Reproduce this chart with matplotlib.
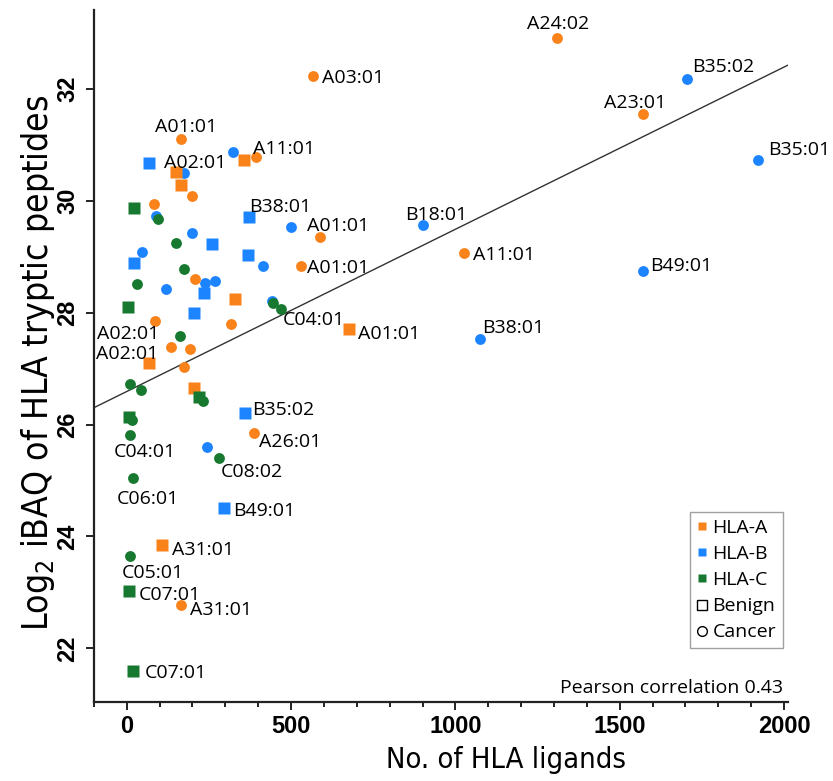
import matplotlib
matplotlib.use("Agg")
import matplotlib.pyplot as plt
import matplotlib.font_manager as fm
from matplotlib.lines import Line2D
from matplotlib.ticker import MultipleLocator
import numpy as np

# ---------------- data ----------------
# HLA-A (orange)
a_cancer_x = [164, 392, 200, 84, 589, 529, 209, 86, 318, 134, 193, 174, 387, 164, 1308, 1570, 1025, 567]
a_cancer_y = [31.11, 30.79, 30.09, 29.94, 29.36, 28.84, 28.60, 27.85, 27.79, 27.38, 27.35, 27.03, 25.84, 22.77, 32.91, 31.55, 29.07, 32.23]
a_cancer_lab = ['A01:01', 'A11:01', '', '', 'A01:01', 'A01:01', '', 'A02:01', '', '', '', '', 'A26:01', 'A31:01', 'A24:02', 'A23:01', 'A11:01', 'A03:01']
a_benign_x = [358, 150, 165, 329, 67, 206, 676, 107]
a_benign_y = [30.72, 30.52, 30.28, 28.25, 27.10, 26.65, 27.71, 23.84]
a_benign_lab = ['', 'A02:01', '', '', 'A02:01', '', 'A01:01', 'A31:01']

# HLA-B (blue)
b_cancer_x = [322, 175, 88, 500, 199, 46, 415, 120, 238, 269, 441, 243, 1704, 1922, 901, 1570, 1075]
b_cancer_y = [30.88, 30.50, 29.73, 29.53, 29.42, 29.08, 28.84, 28.42, 28.53, 28.57, 28.21, 25.60, 32.18, 30.73, 29.56, 28.75, 27.52]
b_cancer_lab = ['', '', '', '', '', '', '', '', '', '', '', '', 'B35:02', 'B35:01', 'B18:01', 'B49:01', 'B38:01']
b_benign_x = [67, 373, 260, 23, 369, 235, 206, 359, 296]
b_benign_y = [30.67, 29.71, 29.23, 28.88, 29.03, 28.35, 27.99, 26.20, 24.51]
b_benign_lab = ['', 'B38:01', '', '', '', '', '', 'B35:02', 'B49:01']

# HLA-C (green)
c_cancer_x = [95, 150, 175, 31, 446, 469, 163, 10, 44, 233, 17, 10, 282, 20, 10]
c_cancer_y = [29.68, 29.24, 28.78, 28.51, 28.17, 28.06, 27.59, 26.72, 26.61, 26.42, 26.08, 25.81, 25.40, 25.05, 23.65]
c_cancer_lab = ['', '', '', '', '', 'C04:01', '', '', '', '', '', 'C04:01', 'C08:02', 'C06:01', 'C05:01']
c_benign_x = [23, 3, 219, 8, 8, 18]
c_benign_y = [29.87, 28.10, 26.50, 26.14, 23.02, 21.59]
c_benign_lab = ['', '', '', '', 'C07:01', 'C07:01']

# regression line
fit_intercept = 26.59
fit_slope = 0.00290
pearson_r = 0.43

x_ticks = [0, 500, 1000, 1500, 2000]
y_ticks = [22, 24, 26, 28, 30, 32]

# ---------------- label placement (pixel offsets, ha) ----------------
label_pos = {
    ('Ac', 0): (5, 14, 'center'), ('Ac', 1): (-2.7, 10, 'left'), ('Ac', 4): (-13.6, 12.4, 'left'),
    ('Ac', 5): (6, 0, 'left'), ('Ac', 7): (4, -10.7, 'right'), ('Ac', 12): (5.3, -6.7, 'left'),
    ('Ac', 13): (9.3, -2.4, 'left'), ('Ac', 14): (2, 15.7, 'center'), ('Ac', 15): (-7.4, 13.3, 'center'),
    ('Ac', 16): (9, 0, 'left'), ('Ac', 17): (9, 0, 'left'),
    ('Ab', 1): (19.5, 11, 'center'), ('Ab', 4): (10, 11, 'right'), ('Ab', 6): (8.7, -2.7, 'left'),
    ('Ab', 7): (9.7, -2.4, 'left'),
    ('Bc', 12): (5, 13.7, 'left'), ('Bc', 13): (10, 11.7, 'left'), ('Bc', 14): (-17.7, 12.3, 'left'),
    ('Bc', 15): (7.3, 6.4, 'left'), ('Bc', 16): (2.3, 13.3, 'left'),
    ('Bb', 1): (0, 12, 'left'), ('Bb', 7): (7.6, 5, 'left'), ('Bb', 8): (8.7, -1, 'left'),
    ('Cc', 5): (2.3, -9, 'left'), ('Cc', 11): (15, -14.7, 'center'), ('Cc', 12): (1.7, -12.4, 'left'),
    ('Cc', 13): (14.7, -19, 'center'), ('Cc', 14): (22.5, -14.7, 'center'),
    ('Cb', 4): (9, -1.7, 'left'), ('Cb', 5): (12.3, 0, 'left'),
}

# ---------------- style ----------------
ORANGE = '#F9821B'
BLUE = '#1C84FF'
GREEN = '#17792F'

ttf = fm.fontManager.ttflist
names = {f.name for f in ttf}
axis_font = {'family': 'Liberation Sans'}
nscale = 1.0
if 'Liberation Sans Narrow' in names:
    axis_font = {'family': 'Liberation Sans Narrow'}
    nscale = 1.0 / 0.82
elif any(f.name == 'DejaVu Sans' and f.stretch in ('condensed', 'semi-condensed') for f in ttf):
    axis_font = {'family': 'DejaVu Sans', 'stretch': 'condensed'}
    nscale = 0.95

LABEL_FONT = 'Open Sans'
LABEL_SIZE = 14
CAP_HALF = 7

W, H = 833, 781
fig = plt.figure(figsize=(W / 100, H / 100), dpi=100)
ax = fig.add_axes([93.5 / W, 1 - 701.7 / H, (788 - 93.5) / W, (701.7 - 10) / H])
ax.set_xlim(-101, 2012)
ax.set_ylim(21.045, 33.41)

for s in ['top', 'right']:
    ax.spines[s].set_visible(False)
for s in ['left', 'bottom']:
    ax.spines[s].set_linewidth(1.6)
    ax.spines[s].set_color('#222222')

# fit line
xl = np.array(ax.get_xlim())
ax.plot(xl, fit_intercept + fit_slope * xl, color='#333333', lw=1.0, zorder=1)

groups = [
    ('Bc', b_cancer_x, b_cancer_y, b_cancer_lab, BLUE, 'o'),
    ('Bb', b_benign_x, b_benign_y, b_benign_lab, BLUE, 's'),
    ('Ac', a_cancer_x, a_cancer_y, a_cancer_lab, ORANGE, 'o'),
    ('Ab', a_benign_x, a_benign_y, a_benign_lab, ORANGE, 's'),
    ('Cc', c_cancer_x, c_cancer_y, c_cancer_lab, GREEN, 'o'),
    ('Cb', c_benign_x, c_benign_y, c_benign_lab, GREEN, 's'),
]
for z, (key, xs, ys, labs, col, mk) in enumerate(groups):
    ms = 9.0 if mk == 's' else 7.8
    ax.plot(xs, ys, linestyle='none', marker=mk, ms=ms, color=col, mec='none', zorder=3 + z)
    for i, lab in enumerate(labs):
        if not lab:
            continue
        dx, dy, ha = label_pos[(key, i)]
        ax.annotate(lab, (xs[i], ys[i]), xytext=(dx, dy - CAP_HALF), textcoords='offset pixels',
                    ha=ha, va='baseline', fontsize=LABEL_SIZE, family=LABEL_FONT, color='black', zorder=10)

# ticks
ax.set_xticks(x_ticks)
ax.set_xticklabels([str(t) for t in x_ticks])
ax.xaxis.set_minor_locator(MultipleLocator(100))
ax.set_yticks(y_ticks)
ax.set_yticklabels([str(t) for t in y_ticks])
ax.tick_params(axis='both', which='major', length=6, width=1.4, color='#222222')
ax.tick_params(axis='x', which='minor', length=3.6, width=1.4, color='#222222')
ax.tick_params(axis='x', which='major', pad=3.5)
ax.tick_params(axis='y', which='major', pad=4)
for lbl in ax.get_xticklabels() + ax.get_yticklabels():
    lbl.set_fontfamily('Liberation Sans')
    lbl.set_fontweight('bold')
    lbl.set_fontsize(17)
for lbl in ax.get_yticklabels():
    lbl.set_rotation(90)
    lbl.set_va('center')

ax.set_xlabel('No. of HLA ligands', fontsize=22 * nscale, labelpad=6, **axis_font)
ax.xaxis.label.set_x((506 - 93.5) / (788 - 93.5))
ax.set_ylabel(r'Log$_{\mathregular{2}}$ iBAQ of HLA tryptic peptides',
              fontsize=26.8 * nscale, labelpad=0, **axis_font)
ax.yaxis.label.set_y((701.7 - 363) / (701.7 - 10))

# legend
handles = [
    Line2D([], [], ls='none', marker='s', ms=6, color=ORANGE, mec='none'),
    Line2D([], [], ls='none', marker='s', ms=6, color=BLUE, mec='none'),
    Line2D([], [], ls='none', marker='s', ms=6, color=GREEN, mec='none'),
    Line2D([], [], ls='none', marker='s', ms=7, mfc='white', mec='black', mew=1.0),
    Line2D([], [], ls='none', marker='o', ms=7, mfc='white', mec='black', mew=1.0),
]
leg = ax.legend(handles, ['HLA-A', 'HLA-B', 'HLA-C', 'Benign', 'Cancer'],
                loc='upper right', bbox_to_anchor=(783 / W, 1 - 512 / H), bbox_transform=fig.transFigure,
                prop={'family': LABEL_FONT, 'size': 14}, frameon=True, fancybox=False,
                handlelength=0.5, handletextpad=0.3, labelspacing=0.42, borderpad=0.35,
                borderaxespad=0)
leg.get_frame().set_edgecolor('#888888')
leg.get_frame().set_linewidth(1.0)

fig.text(783 / W, 1 - 693 / H, f'Pearson correlation {pearson_r}', ha='right', va='baseline',
         family=LABEL_FONT, fontsize=14)

fig.savefig('out.png', dpi=100)
